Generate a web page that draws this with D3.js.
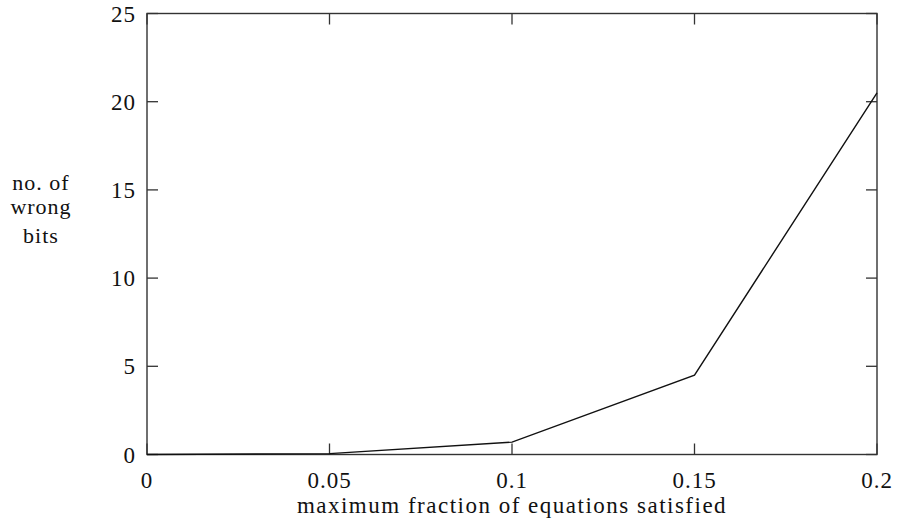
<!DOCTYPE html>
<html>
<head>
<meta charset="utf-8">
<script src="https://cdn.jsdelivr.net/npm/d3@7"></script>
<style>
  body { margin: 0; background: #fff; }
  svg text { font-family: "Liberation Serif", "DejaVu Serif", serif; fill: #111; letter-spacing: 1px; }
</style>
</head>
<body>
<div id="chart"></div>
<script>
"use strict";

// data
const fractions = [0, 0.05, 0.1, 0.15, 0.2];
const wrongBits = [0, 0.05, 0.7, 4.5, 20.5];
const xTicks = [0, 0.05, 0.1, 0.15, 0.2];
const xTickLabels = ["0", "0.05", "0.1", "0.15", "0.2"];
const yTicks = [0, 5, 10, 15, 20, 25];
const yLabelLines = ["no. of", "wrong", "bits"];
const xLabel = "maximum fraction of equations satisfied";

const w = 897, h = 529;
const margins = { top: 13.5, right: 20, bottom: 74.5, left: 147 };
const width = w - margins.left - margins.right;
const height = h - margins.top - margins.bottom;
const tickLen = 11;
const fontSize = 23;

const svg = d3.select("#chart").append("svg")
  .attr("width", w)
  .attr("height", h);

const x = d3.scaleLinear().domain([0, 0.2]).range([0, width]);
const y = d3.scaleLinear().domain([0, 25]).range([height, 0]);

const chart = svg.append("g")
  .attr("transform", `translate(${margins.left}, ${margins.top})`);

// frame
chart.append("rect")
  .attr("x", 0).attr("y", 0)
  .attr("width", width).attr("height", height)
  .attr("fill", "none")
  .attr("stroke", "#333")
  .attr("stroke-width", 1.4);

// inward ticks on all four sides (gnuplot style, mirrored)
const ticks = chart.append("g")
  .attr("stroke", "#333")
  .attr("stroke-width", 1.3);

xTicks.forEach(t => {
  ticks.append("line")
    .attr("x1", x(t)).attr("x2", x(t))
    .attr("y1", height).attr("y2", height - tickLen);
  ticks.append("line")
    .attr("x1", x(t)).attr("x2", x(t))
    .attr("y1", 0).attr("y2", tickLen);
});
yTicks.forEach(t => {
  ticks.append("line")
    .attr("x1", 0).attr("x2", tickLen)
    .attr("y1", y(t)).attr("y2", y(t));
  ticks.append("line")
    .attr("x1", width).attr("x2", width - tickLen)
    .attr("y1", y(t)).attr("y2", y(t));
});

// tick labels
chart.append("g").selectAll("text")
  .data(xTicks)
  .enter().append("text")
  .attr("x", d => x(d))
  .attr("y", height + 33)
  .attr("text-anchor", "middle")
  .attr("font-size", fontSize)
  .text((d, i) => xTickLabels[i]);

chart.append("g").selectAll("text")
  .data(yTicks)
  .enter().append("text")
  .attr("x", -11)
  .attr("y", d => y(d))
  .attr("dy", "0.35em")
  .attr("text-anchor", "end")
  .attr("font-size", fontSize)
  .text(d => d);

// data line
const line = d3.line()
  .x(d => x(d[0]))
  .y(d => y(d[1]));

chart.append("path")
  .datum(fractions.map((f, i) => [f, wrongBits[i]]))
  .attr("fill", "none")
  .attr("stroke", "#111")
  .attr("stroke-width", 1.4)
  .attr("d", line);

// axis titles
svg.append("text")
  .attr("x", margins.left + width / 2)
  .attr("y", 513)
  .attr("text-anchor", "middle")
  .attr("font-size", fontSize)
  .style("letter-spacing", "1.5px")
  .text(xLabel);

const yLabelBaselines = [190, 214, 243];
svg.append("g").selectAll("text")
  .data(yLabelLines)
  .enter().append("text")
  .attr("x", 41)
  .attr("y", (d, i) => yLabelBaselines[i])
  .attr("text-anchor", "middle")
  .attr("font-size", 22)
  .text(d => d);
</script>
</body>
</html>
